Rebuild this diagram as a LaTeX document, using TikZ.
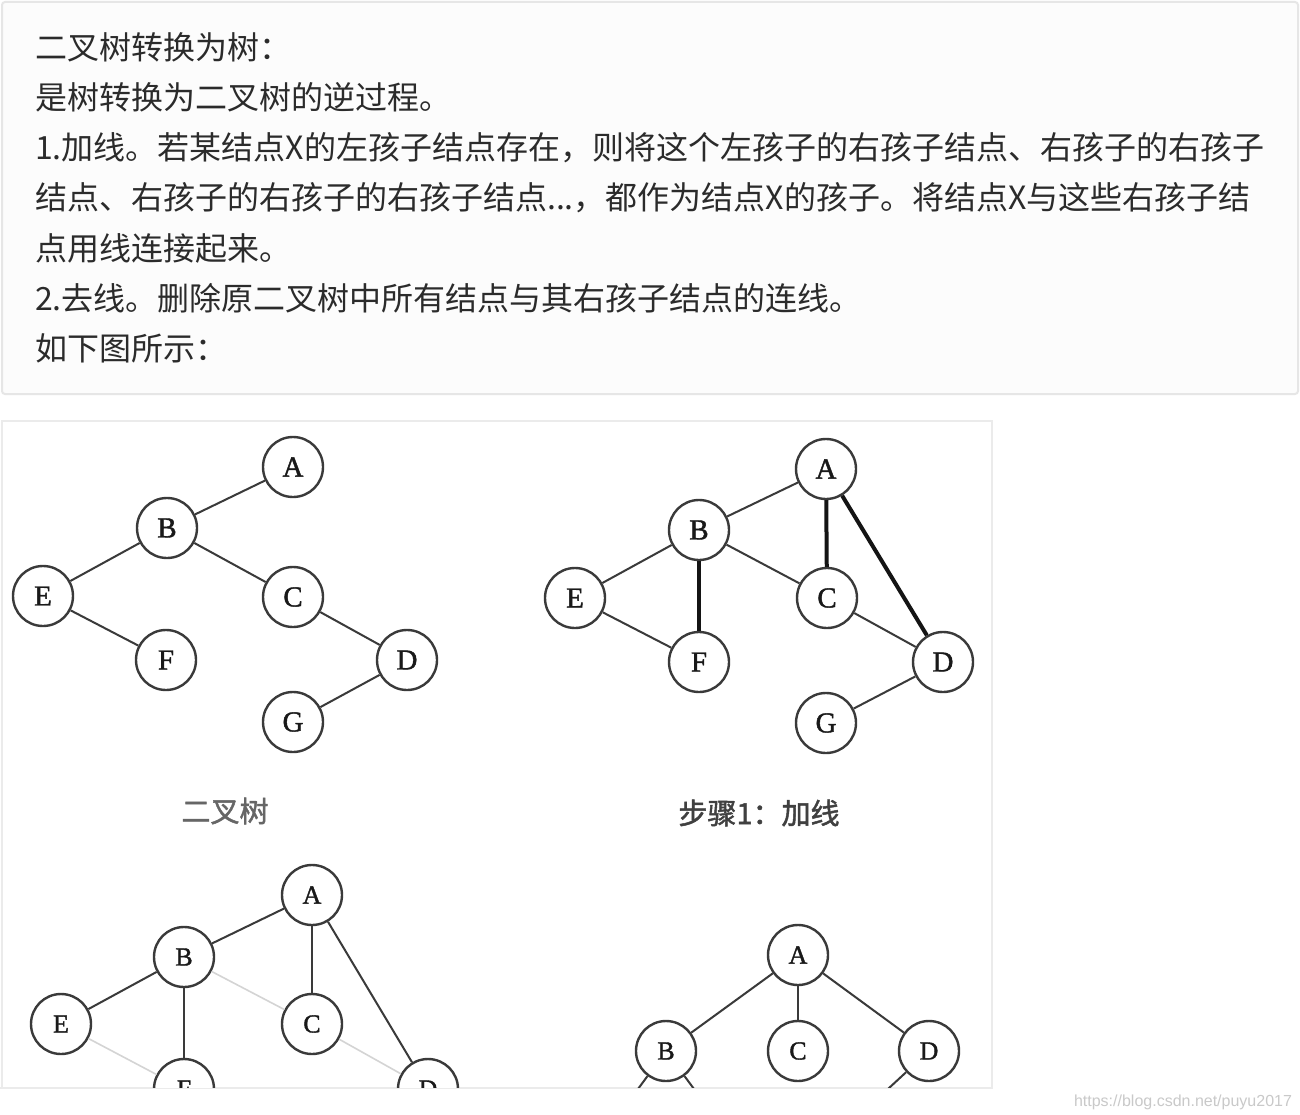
\documentclass[tikz,border=0pt]{standalone}
\usepackage{fontspec}
\newfontfamily\cjk{Noto Sans CJK SC}
\newfontfamily\cjkcap[FakeBold=1.6]{Noto Sans CJK SC}
\newfontfamily\serifl[FakeBold=1.4]{Liberation Serif}
\newfontfamily\wmfont{Liberation Sans}
\definecolor{txt}{HTML}{2B2B2B}
\definecolor{boxfill}{HTML}{FCFCFC}
\definecolor{boxline}{HTML}{E6E6E6}
\definecolor{imgline}{HTML}{EBEBEB}
\definecolor{ink}{HTML}{3A3A3A}
\definecolor{faint}{HTML}{D4D4D4}
\definecolor{wm}{HTML}{C9C9C9}
\tikzset{
  para/.style={anchor=base west, inner sep=0pt, text=txt, font=\cjk\fontsize{32}{40}\selectfont},
  tnode/.style={circle, draw=ink, line width=2.4pt, minimum size=60pt, inner sep=0pt, fill=white, text=black!90, font=\serifl\fontsize{29}{30}\selectfont},
  snode/.style={tnode, font=\serifl\fontsize{26}{28}\selectfont},
  edge/.style={draw=ink, line width=2pt},
  thick edge/.style={draw=black!92, line width=4pt},
  faint edge/.style={draw=faint, line width=1.6pt},
  caption/.style={inner sep=0pt, font=\cjkcap\fontsize{29}{30}\selectfont}
}
\begin{document}
\begin{tikzpicture}[x=1pt, y=-1pt]
\useasboundingbox (0,0) rectangle (1300,1115);
\fill[white] (0,0) rectangle (1300,1115);
% text box
\draw[boxline, fill=boxfill, line width=2pt, rounded corners=3pt] (2,2) rectangle (1298,394);
\node[para] (l1) at (35,60) {二叉树转换为树：};
\node[para] (l2) at (35,110) {是树转换为二叉树的逆过程。};
\node[para] (l3) at (35,160) {1.加线。若某结点X的左孩子结点存在，则将这个左孩子的右孩子结点、右孩子的右孩子};
\node[para] (l4) at (35,210) {结点、右孩子的右孩子的右孩子结点...，都作为结点X的孩子。将结点X与这些右孩子结};
\node[para] (l5) at (35,260) {点用线连接起来。};
\node[para] (l6) at (35,310) {2.去线。删除原二叉树中所有结点与其右孩子结点的连线。};
\node[para] (l7) at (35,360) {如下图所示：};
% image frame
\draw[imgline, line width=2pt] (2,1088) -- (2,421) -- (992,421) -- (992,1088);
\draw[imgline, line width=2pt] (0,1088) -- (993,1088);
\begin{scope}
\clip (3,422) rectangle (991,1087);
% ---- tree 1: binary tree
\node[tnode] (a1) at (293,467) {A};
\node[tnode] (b1) at (167,528) {B};
\node[tnode] (e1) at (43,596) {E};
\node[tnode] (c1) at (293,597) {C};
\node[tnode] (f1) at (166,660) {F};
\node[tnode] (d1) at (407,660) {D};
\node[tnode] (g1) at (293,722) {G};
\draw[edge] (a1) -- (b1);
\draw[edge] (b1) -- (e1);
\draw[edge] (b1) -- (c1);
\draw[edge] (e1) -- (f1);
\draw[edge] (c1) -- (d1);
\draw[edge] (d1) -- (g1);
\node[caption, text=black!60] (cap1) at (225,811) {二叉树};
% ---- tree 2: step 1
\node[tnode] (a2) at (826,469) {A};
\node[tnode] (b2) at (699,530) {B};
\node[tnode] (e2) at (575,598) {E};
\node[tnode] (c2) at (827,598) {C};
\node[tnode] (f2) at (699,662) {F};
\node[tnode] (d2) at (943,662) {D};
\node[tnode] (g2) at (826,723) {G};
\draw[edge] (a2) -- (b2);
\draw[edge] (b2) -- (e2);
\draw[edge] (b2) -- (c2);
\draw[edge] (e2) -- (f2);
\draw[edge] (c2) -- (d2);
\draw[edge] (d2) -- (g2);
\draw[thick edge] (b2) -- (f2);
\draw[thick edge] (a2) -- (c2);
\draw[thick edge] (a2) -- (d2);
\node[caption, text=black!75] (cap2) at (759,813) {步骤1：加线};
% ---- tree 3: step 2
\node[snode] (a3) at (312,895) {A};
\node[snode] (b3) at (184,957) {B};
\node[snode] (e3) at (61,1024) {E};
\node[snode] (c3) at (312,1024) {C};
\node[snode] (f3) at (184,1089) {F};
\node[snode] (d3) at (428,1089) {D};
\draw[faint edge] (b3) -- (c3);
\draw[faint edge] (e3) -- (f3);
\draw[faint edge] (c3) -- (d3);
\draw[edge] (a3) -- (b3);
\draw[edge] (b3) -- (e3);
\draw[edge] (b3) -- (f3);
\draw[edge] (a3) -- (c3);
\draw[edge] (a3) -- (d3);
% ---- tree 4: result
\node[snode] (a4) at (798,955) {A};
\node[snode] (b4) at (666,1051) {B};
\node[snode] (c4) at (798,1051) {C};
\node[snode] (d4) at (929,1051) {D};
\coordinate (e4) at (593,1150);
\coordinate (f4) at (739,1150);
\coordinate (g4) at (822,1150);
\draw[edge] (a4) -- (b4);
\draw[edge] (a4) -- (c4);
\draw[edge] (a4) -- (d4);
\draw[edge] (b4) -- (e4);
\draw[edge] (b4) -- (f4);
\draw[edge] (d4) -- (g4);
\end{scope}
% watermark
\node[inner sep=0pt, text=wm, font=\wmfont\fontsize{16}{18}\selectfont] (wmk) at (1183,1102) {https://blog.csdn.net/puyu2017};
\end{tikzpicture}
\end{document}
